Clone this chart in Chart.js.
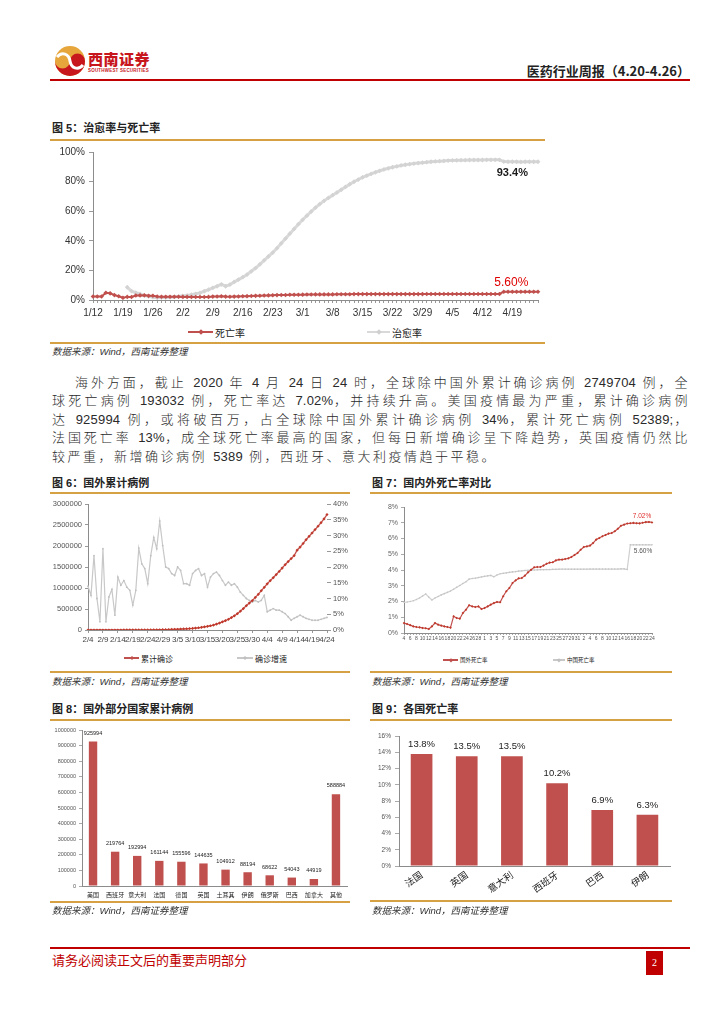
<!DOCTYPE html>
<html lang="zh-CN">
<head>
<meta charset="utf-8">
<title>医药行业周报（4.20-4.26）</title>
<script src="https://cdn.jsdelivr.net/npm/chart.js@4.4.1/dist/chart.umd.min.js"></script>
<style>
  html, body { margin: 0; padding: 0; background: #fff; }
  #page { position: relative; width: 724px; height: 1024px; overflow: hidden;
          font-family: "Liberation Sans", Arial, "Noto Sans CJK SC", sans-serif; color: #222; }
  .abs { position: absolute; }
  canvas { position: absolute; }
  .fig-title { position: absolute; font-size: 11px; font-weight: 700; line-height: 14px; white-space: nowrap;
               font-family: "Liberation Sans", "Noto Sans CJK SC", sans-serif; }
  .gold { position: absolute; height: 2px; background: #d6a142; }
  .src { position: absolute; font-size: 9.5px; font-style: italic; color: #333; line-height: 12px; white-space: nowrap;
         font-family: "Liberation Sans", "Noto Sans CJK SC", sans-serif; }
  .lg { position: absolute; display: flex; align-items: center; white-space: nowrap; height: 12px;
        font-family: "Noto Sans CJK SC", sans-serif; color: #222; }
  .ln { position: relative; display: inline-block; height: 2px; margin-right: 2px; }
  .ln b { position: absolute; left: 50%; top: 50%; width: 4px; height: 4px; transform: translate(-50%, -50%) rotate(45deg); }
  .para { position: absolute; left: 52px; top: 374px; font-size: 13px; color: #2a2a2a; letter-spacing: 2.5px;
          font-family: "Liberation Sans", "Noto Sans CJK SC Light", "Noto Sans CJK SC DemiLight", "Noto Sans CJK SC", sans-serif;
          font-weight: 300; }
  .para .n { letter-spacing: 0.2px; }
  .pl { width: 638px; height: 18.4px; line-height: 18.4px; white-space: nowrap; text-align: justify; text-align-last: justify; }
  .pl.last { text-align-last: left; }
</style>
</head>
<body>
<div id="page">

  <!-- header -->
  <svg class="abs" style="left:54px;top:45px" width="32" height="32" viewBox="0 0 32 32">
    <circle cx="16" cy="16" r="15" fill="#e7a63c"/>
    <path d="M1 16 A15 15 0 0 0 31 16 A7.5 7.5 0 0 0 16 16 A7.5 7.5 0 0 1 1 16 Z" fill="#c8161d"/>
    <path d="M3 12 C8 6 15 9 16 16 C17 23 24 26 29 20" stroke="#fff" stroke-width="3" fill="none"/>
  </svg>
  <div class="abs" style="left:88px;top:50px;font-size:15px;font-weight:900;color:#c8161d;letter-spacing:0.5px;font-family:'Noto Sans CJK SC',sans-serif;line-height:17px">西南证券</div>
  <div class="abs" style="left:88px;top:68px;font-size:4.5px;color:#c8161d;letter-spacing:0.2px;line-height:5px;font-weight:700">SOUTHWEST SECURITIES</div>
  <div class="abs" style="right:34px;top:63px;font-size:13px;font-weight:700;line-height:16px;font-family:'Noto Sans CJK SC',sans-serif">医药行业周报（4.20-4.26）</div>
  <div class="abs" style="left:50px;top:79px;width:640px;height:2px;background:#c00000"></div>

  <!-- 图5 -->
  <div class="fig-title" style="left:52px;top:121px">图 5：治愈率与死亡率</div>
  <div class="gold" style="left:50px;top:139px;width:495px"></div>
  <canvas id="c5" width="495" height="180" style="left:50px;top:142px;width:495px;height:180px"></canvas>
  <div class="lg" style="left:188px;top:326px;font-size:10px">
    <i class="ln" style="width:25px;background:#c0504d"><b style="background:#c0504d"></b></i>死亡率
  </div>
  <div class="lg" style="left:367px;top:326px;font-size:10px">
    <i class="ln" style="width:23px;background:#d9d9d9"><b style="background:#d0d0d0"></b></i>治愈率
  </div>
  <div class="gold" style="left:50px;top:342px;width:495px"></div>
  <div class="src" style="left:52px;top:346px">数据来源：Wind，西南证券整理</div>

  <!-- 正文 -->
  <div class="para">
    <div class="pl" style="padding-left:23px;width:615px">海外方面，截止 <span class="n">2020</span> 年 <span class="n">4</span> 月 <span class="n">24</span> 日 <span class="n">24</span> 时，全球除中国外累计确诊病例 <span class="n">2749704</span> 例，全</div>
    <div class="pl">球死亡病例 <span class="n">193032</span> 例，死亡率达 <span class="n">7.02%</span>，并持续升高。美国疫情最为严重，累计确诊病例</div>
    <div class="pl">达 <span class="n">925994</span> 例，或将破百万，占全球除中国外累计确诊病例 <span class="n">34%</span>，累计死亡病例 <span class="n">52389;</span>，</div>
    <div class="pl">法国死亡率 <span class="n">13%</span>，成全球死亡率最高的国家，但每日新增确诊呈下降趋势，英国疫情仍然比</div>
    <div class="pl last">较严重，新增确诊病例 <span class="n">5389</span> 例，西班牙、意大利疫情趋于平稳。</div>
  </div>

  <!-- 图6 -->
  <div class="fig-title" style="left:52px;top:476px">图 6：国外累计病例</div>
  <div class="gold" style="left:50px;top:492px;width:300px"></div>
  <canvas id="c6" width="300" height="155" style="left:50px;top:495px;width:300px;height:155px"></canvas>
  <div class="lg" style="left:124px;top:652px;font-size:8px">
    <i class="ln" style="width:15px;height:1.5px;background:#c0504d"><b style="background:#c0504d;width:3px;height:3px"></b></i>累计确诊
  </div>
  <div class="lg" style="left:237px;top:652px;font-size:8px">
    <i class="ln" style="width:16px;height:1.5px;background:#c8c8c8"><b style="background:#c0c0c0;width:3px;height:3px"></b></i>确诊增速
  </div>
  <div class="gold" style="left:50px;top:671px;width:300px"></div>
  <div class="src" style="left:52px;top:676px">数据来源：Wind，西南证券整理</div>

  <!-- 图7 -->
  <div class="fig-title" style="left:372px;top:476px">图 7：国内外死亡率对比</div>
  <div class="gold" style="left:370px;top:492px;width:302px"></div>
  <canvas id="c7" width="307" height="155" style="left:365px;top:497px;width:307px;height:155px"></canvas>
  <div class="lg" style="left:443px;top:654px;font-size:5.5px">
    <i class="ln" style="width:15px;height:1.2px;background:#c0504d"><b style="background:#c0504d;width:2.5px;height:2.5px"></b></i>国外死亡率
  </div>
  <div class="lg" style="left:553px;top:654px;font-size:5.5px">
    <i class="ln" style="width:12px;height:1.2px;background:#c8c8c8"><b style="background:#c0c0c0;width:2.5px;height:2.5px"></b></i>中国死亡率
  </div>
  <div class="gold" style="left:370px;top:671px;width:302px"></div>
  <div class="src" style="left:372px;top:676px">数据来源：Wind，西南证券整理</div>

  <!-- 图8 -->
  <div class="fig-title" style="left:52px;top:702px">图 8：国外部分国家累计病例</div>
  <div class="gold" style="left:50px;top:719px;width:300px"></div>
  <canvas id="c8" width="300" height="180" style="left:50px;top:722px;width:300px;height:180px"></canvas>
  <div class="gold" style="left:50px;top:901px;width:300px"></div>
  <div class="src" style="left:52px;top:905px">数据来源：Wind，西南证券整理</div>

  <!-- 图9 -->
  <div class="fig-title" style="left:372px;top:702px">图 9：各国死亡率</div>
  <div class="gold" style="left:370px;top:719px;width:302px"></div>
  <canvas id="c9" width="307" height="172" style="left:365px;top:726px;width:307px;height:172px"></canvas>
  <div class="gold" style="left:370px;top:900px;width:302px"></div>
  <div class="src" style="left:372px;top:905px">数据来源：Wind，西南证券整理</div>

  <!-- footer -->
  <div class="abs" style="left:50px;top:947px;width:640px;height:2px;background:#c00000"></div>
  <div class="abs" style="left:52px;top:952px;font-size:13px;color:#c00000;line-height:16px;font-family:'Noto Sans CJK SC',sans-serif">请务必阅读正文后的重要声明部分</div>
  <div class="abs" style="left:646px;top:951px;width:17px;height:24px;background:#c00000;color:#fff;font-size:10px;line-height:24px;text-align:center;font-family:'Liberation Serif',serif">2</div>
</div>

<script>
// ---------------- data ----------------

// day labels for 2020 (categories)
function buildDays(m0, d0, m1, d1) {
  const monthLen = [0, 31, 29, 31, 30];
  const out = [];
  let m = m0, d = d0;
  while (m < m1 || (m === m1 && d <= d1)) {
    out.push(m + '/' + d);
    d++;
    if (d > monthLen[m]) { d = 1; m++; }
  }
  return out;
}

// 图5: 1/12 - 4/25, %
const fig5Dates = buildDays(1, 12, 4, 25);
const fig5Death = [
  2.4, 2.4, 2.4, 4.9, 4.5, 3.3, 2.5, 1.5, 2.1, 2.0,
  3.0, 3.1, 3.2, 2.8, 2.9, 2.4, 2.2, 2.2, 2.2, 2.2,
  2.2, 2.1, 2.1, 2.0, 2.0, 2.0, 2.0, 2.1, 2.3, 2.4,
  2.5, 2.3, 2.2, 2.3, 2.4, 2.5, 2.6, 2.7, 2.8, 2.9,
  3.0, 3.1, 3.2, 3.3, 3.4, 3.4, 3.5, 3.5, 3.5, 3.6,
  3.7, 3.7, 3.8, 3.8, 3.8, 3.8, 3.8, 3.9, 3.9, 3.9,
  3.9, 4.0, 4.0, 4.0, 4.0, 4.0, 4.0, 4.0, 4.0, 4.0,
  4.0, 4.0, 4.0, 4.0, 4.0, 4.0, 4.0, 4.0, 4.1, 4.1,
  4.1, 4.1, 4.1, 4.1, 4.1, 4.1, 4.1, 4.1, 4.1, 4.1,
  4.1, 4.1, 4.1, 4.1, 4.1, 4.1,
  5.6, 5.6, 5.6, 5.6, 5.6, 5.6, 5.6, 5.6, 5.6
];
const fig5Cure = [
  null, null, null, null, null, null, null, null, 8.6, 6.0,
  4.9, 4.1, 3.0, 2.5, 1.9, 1.5, 1.7, 1.7, 1.8, 2.1,
  2.3, 2.8, 3.1, 3.6, 4.2, 4.8, 5.9, 7.0, 8.2, 9.3,
  10.6, 9.3, 10.4, 12.2, 13.8, 15.4, 17.2, 19.4, 21.6, 24.1,
  26.8, 29.4, 32.0, 35.0, 38.3, 41.5, 44.8, 48.0, 51.2, 54.2,
  57.0, 59.8, 62.4, 64.8, 67.0, 69.0, 70.8, 72.6, 74.5, 76.4,
  78.2, 79.9, 81.4, 82.9, 84.1, 85.2, 86.3, 87.3, 88.2, 89.0,
  89.7, 90.3, 90.9, 91.4, 91.8, 92.2, 92.5, 92.8, 93.1, 93.4,
  93.6, 93.8, 94.0, 94.2, 94.3, 94.4, 94.5, 94.5, 94.6, 94.6,
  94.6, 94.6, 94.7, 94.7, 94.7, 94.7,
  93.5, 93.4, 93.4, 93.4, 93.3, 93.4, 93.4, 93.4, 93.4
];

// 图6 / 图7: 2/4 - 4/24
const outsideDates = buildDays(2, 4, 4, 24);
const fig6Cases = [
  200, 230, 260, 300, 320, 340, 390, 400, 440, 450,
  510, 530, 690, 810, 900, 1000, 1100, 1400, 1800, 2100,
  2500, 2900, 3700, 4700, 6100, 7200, 8800, 10500, 12700, 15000,
  18000, 21600, 25600, 29000, 34000, 38000, 46000, 53000, 64000, 76000,
  88000, 101000, 118000, 140000, 165000, 195000, 223000, 255000, 296000, 338000,
  388000, 449000, 510000, 578000, 641000, 700000, 776000, 849000, 937000, 1016000,
  1100000, 1175000, 1245000, 1320000, 1395000, 1475000, 1555000, 1630000, 1700000, 1770000,
  1900000, 1975000, 2060000, 2150000, 2230000, 2310000, 2390000, 2470000, 2555000, 2644000,
  2749704
];
const fig6Growth = [
  13.9, 11.0, 23.6, 10.0, 2.6, 25.8, 2.6, 10.5, 12.9, 4.7,
  16.8, 14.2, 15.7, 13.6, 12.6, 7.9, 12.6, 26.0, 21.0, 19.5,
  14.7, 23.6, 29.4, 25.8, 34.6, 26.8, 20.0, 19.5, 17.9, 17.3,
  20.0, 18.9, 14.7, 14.7, 14.2, 17.9, 18.9, 19.5, 17.3, 17.9,
  13.6, 16.8, 17.9, 18.4, 17.3, 15.7, 14.2, 15.2, 14.2, 14.7,
  13.6, 12.0, 11.0, 10.0, 9.4, 8.9, 9.4, 8.9, 9.4, 11.0,
  5.8, 6.3, 6.8, 6.3, 6.3, 5.8, 5.2, 4.2, 3.1, 3.7,
  4.2, 4.7, 4.2, 3.7, 3.4, 3.1, 3.1, 3.1, 3.4, 3.7,
  4.0
];

const fig7Abroad = [
  0.63, 0.57, 0.50, 0.42, 0.38, 0.36, 0.32, 0.30, 0.25, 0.42,
  0.63, 0.53, 0.47, 0.42, 0.38, 0.34, 1.06, 0.95, 0.91, 1.27,
  1.48, 1.76, 1.69, 1.65, 1.69, 1.52, 1.59, 1.69, 1.80, 1.90,
  1.97, 1.95, 2.33, 2.65, 2.86, 3.17, 3.34, 3.47, 3.49, 3.64,
  3.85, 4.02, 4.17, 4.19, 4.19, 4.28, 4.40, 4.47, 4.49, 4.61,
  4.66, 4.66, 4.70, 4.74, 4.83, 4.95, 5.08, 5.29, 5.46, 5.50,
  5.55, 5.71, 5.93, 6.03, 6.14, 6.22, 6.31, 6.35, 6.46, 6.62,
  6.81, 6.88, 6.95, 6.97, 6.99, 6.97, 6.96, 7.00, 7.04, 7.05,
  7.02
];
const fig7China = [
  1.95, 1.97, 2.00, 2.05, 2.13, 2.22, 2.35, 2.48, 2.28, 2.10,
  2.22, 2.32, 2.42, 2.50, 2.58, 2.67, 2.78, 2.90, 3.02, 3.14,
  3.25, 3.42, 3.46, 3.48, 3.52, 3.56, 3.60, 3.63, 3.66, 3.57,
  3.68, 3.76, 3.79, 3.82, 3.85, 3.88, 3.90, 3.93, 3.95, 3.97,
  3.98, 3.99, 4.00, 4.01, 4.02, 4.02, 4.03, 4.03, 4.04, 4.04,
  4.05, 4.05, 4.05, 4.05, 4.05, 4.05, 4.05, 4.05, 4.05, 4.05,
  4.06, 4.06, 4.06, 4.06, 4.06, 4.06, 4.06, 4.06, 4.06, 4.06,
  4.07, 4.07, 4.03, 5.60, 5.60, 5.60, 5.60, 5.60, 5.60, 5.60,
  5.60
];

// 图8
const fig8Countries = ['美国', '西班牙', '意大利', '法国', '德国', '英国', '土耳其', '伊朗', '俄罗斯', '巴西', '加拿大', '其他'];
const fig8Cases = [925994, 219764, 192994, 161144, 155596, 144635, 104912, 88194, 68622, 54043, 44919, 588884];

// 图9
const fig9Countries = ['法国', '英国', '意大利', '西班牙', '巴西', '伊朗'];
const fig9Rates = [13.8, 13.5, 13.5, 10.2, 6.9, 6.3];

// ---------------- style ----------------
const RED = '#c0504d';
const GREY = '#d9d9d9';
const AXIS = '#8c8c8c';
const LATIN = '"Liberation Sans", Arial, "Noto Sans CJK SC", sans-serif';
const CJK = '"Noto Sans CJK SC", sans-serif';

Chart.defaults.font.family = LATIN;
Chart.defaults.color = '#333';
Chart.defaults.animation = false;
Chart.defaults.responsive = false;
Chart.defaults.devicePixelRatio = 1;
Chart.defaults.plugins.legend.display = false;
Chart.defaults.plugins.tooltip.enabled = false;

// value labels above bars
const barValuePlugin = {
  id: 'barValues',
  afterDatasetsDraw(chart, args, opts) {
    if (!opts || !opts.display) return;
    const ctx = chart.ctx;
    const meta = chart.getDatasetMeta(0);
    const data = chart.data.datasets[0].data;
    ctx.save();
    ctx.font = opts.font;
    ctx.fillStyle = opts.color;
    ctx.textAlign = 'center';
    ctx.textBaseline = 'bottom';
    meta.data.forEach((bar, i) => {
      ctx.fillText(opts.format(data[i]), bar.x, bar.y - opts.offset);
    });
    ctx.restore();
  }
};

// text notes next to a given point
const pointNotePlugin = {
  id: 'pointNotes',
  afterDatasetsDraw(chart, args, opts) {
    const notes = (opts && opts.notes) || [];
    if (!notes.length) return;
    const ctx = chart.ctx;
    ctx.save();
    notes.forEach(n => {
      const el = chart.getDatasetMeta(n.dataset).data[n.index];
      if (!el) return;
      ctx.font = n.font;
      ctx.fillStyle = n.color;
      ctx.textAlign = 'center';
      ctx.textBaseline = 'middle';
      ctx.fillText(n.text, el.x + n.dx, el.y + n.dy);
    });
    ctx.restore();
  }
};

Chart.register(barValuePlugin, pointNotePlugin);

function fixWidth(w) { return s => { s.width = w; }; }
function fixHeight(h) { return s => { s.height = h; }; }

// ---------------- 图5 ----------------
new Chart(document.getElementById('c5'), {
  type: 'line',
  data: {
    labels: fig5Dates,
    datasets: [
      { label: '死亡率', data: fig5Death, borderColor: RED, backgroundColor: RED,
        borderWidth: 2, pointStyle: 'rectRot', pointRadius: 2.3, pointBorderWidth: 0, tension: 0 },
      { label: '治愈率', data: fig5Cure, borderColor: GREY, backgroundColor: '#d3d3d3',
        borderWidth: 3, pointStyle: 'rectRot', pointRadius: 2.4, pointBorderWidth: 0, tension: 0 }
    ]
  },
  options: {
    layout: { padding: { left: 0, top: 10, right: 7, bottom: 0 } },
    plugins: {
      pointNotes: { notes: [
        { dataset: 1, index: 98, text: '93.4%', dx: 0, dy: 11, color: '#1a1a1a', font: 'bold 11px ' + LATIN },
        { dataset: 0, index: 98, text: '5.60%', dx: -1, dy: -9, color: '#e00000', font: '12px ' + LATIN }
      ] }
    },
    scales: {
      x: {
        offset: false,
        grid: { offset: false, drawOnChartArea: false, tickLength: 3, color: '#999' },
        border: { color: AXIS },
        ticks: { autoSkip: false, maxRotation: 0, minRotation: 0, padding: 4, font: { size: 10 },
                 callback: (v, i) => (i % 7 === 0 ? fig5Dates[i] : '') },
        afterFit: fixHeight(22)
      },
      y: {
        min: 0, max: 100,
        grid: { drawOnChartArea: false, tickLength: 4, color: '#999' },
        border: { color: AXIS },
        ticks: { stepSize: 10, padding: 4, font: { size: 10 }, callback: v => v + '%' },
        afterFit: fixWidth(43)
      }
    }
  }
});

// ---------------- 图6 ----------------
new Chart(document.getElementById('c6'), {
  type: 'line',
  data: {
    labels: outsideDates,
    datasets: [
      { label: '累计确诊', data: fig6Cases, yAxisID: 'y', borderColor: RED, backgroundColor: '#c0392b',
        borderWidth: 1.3, pointStyle: 'rectRot', pointRadius: 1.6, pointBorderWidth: 0, tension: 0 },
      { label: '确诊增速', data: fig6Growth, yAxisID: 'y1', borderColor: '#c8c8c8', backgroundColor: '#c0c0c0',
        borderWidth: 1.2, pointStyle: 'circle', pointRadius: 0.9, pointBorderWidth: 0, tension: 0 }
    ]
  },
  options: {
    layout: { padding: { left: 0, top: 9, right: 0, bottom: 0 } },
    scales: {
      x: {
        offset: false,
        grid: { offset: false, drawOnChartArea: false, tickLength: 3,
                color: c => (c.index % 5 === 0 ? '#999' : 'rgba(0,0,0,0)') },
        border: { color: AXIS },
        ticks: { autoSkip: false, maxRotation: 0, minRotation: 0, padding: 2, color: '#444', font: { size: 8 },
                 callback: (v, i) => (i % 5 === 0 ? outsideDates[i] : '') },
        afterFit: fixHeight(20)
      },
      y: {
        position: 'left', min: 0, max: 3000000,
        grid: { drawOnChartArea: false, tickLength: 3, color: '#999' },
        border: { color: AXIS },
        ticks: { stepSize: 500000, padding: 3, color: '#555', font: { size: 7.5 }, callback: v => String(v) },
        afterFit: fixWidth(38)
      },
      y1: {
        position: 'right', min: 0, max: 40,
        grid: { drawOnChartArea: false, tickLength: 4, color: '#999' },
        border: { display: false },
        ticks: { stepSize: 5, padding: 2, color: '#555', font: { size: 7.5 }, callback: v => v + '%' },
        afterFit: fixWidth(23)
      }
    }
  }
});

// ---------------- 图7 ----------------
new Chart(document.getElementById('c7'), {
  type: 'line',
  data: {
    labels: outsideDates,
    datasets: [
      { label: '国外死亡率', data: fig7Abroad, borderColor: RED, backgroundColor: '#c0392b',
        borderWidth: 1.2, pointStyle: 'rectRot', pointRadius: 1.3, pointBorderWidth: 0, tension: 0 },
      { label: '中国死亡率', data: fig7China, borderColor: '#cfcfcf', backgroundColor: '#c4c4c4',
        borderWidth: 1.2, pointStyle: 'circle', pointRadius: 0.8, pointBorderWidth: 0, tension: 0 }
    ]
  },
  options: {
    layout: { padding: { left: 0, top: 10, right: 20, bottom: 0 } },
    plugins: {
      pointNotes: { notes: [
        { dataset: 0, index: 80, text: '7.02%', dx: -10, dy: -6, color: '#e03030', font: '6.5px ' + LATIN },
        { dataset: 1, index: 80, text: '5.60%', dx: -9, dy: 6, color: '#555', font: '6.5px ' + LATIN }
      ] }
    },
    scales: {
      x: {
        offset: false,
        grid: { offset: false, drawOnChartArea: false, tickLength: 2, color: '#aaa' },
        border: { color: AXIS },
        ticks: { autoSkip: false, maxRotation: 0, minRotation: 0, padding: 1, color: '#555', font: { size: 5 },
                 callback: (v, i) => (i % 2 === 0 ? outsideDates[i].split('/')[1] : '') },
        afterFit: fixHeight(19)
      },
      y: {
        min: 0, max: 8,
        grid: { drawOnChartArea: false, tickLength: 3, color: '#aaa' },
        border: { color: AXIS },
        ticks: { stepSize: 1, padding: 3, color: '#666', font: { size: 7 }, callback: v => v + '%' },
        afterFit: fixWidth(39)
      }
    }
  }
});

// ---------------- 图8 ----------------
new Chart(document.getElementById('c8'), {
  type: 'bar',
  data: {
    labels: fig8Countries,
    datasets: [{ label: '累计确诊', data: fig8Cases, backgroundColor: RED,
                 barPercentage: 0.38, categoryPercentage: 1 }]
  },
  options: {
    layout: { padding: { left: 0, top: 8, right: 3, bottom: 0 } },
    plugins: {
      barValues: { display: true, font: '5.5px ' + LATIN, color: '#222', offset: 5.5, format: v => String(v) }
    },
    scales: {
      x: {
        grid: { display: false, drawTicks: false },
        border: { color: AXIS },
        ticks: { padding: 5, color: '#222', font: { size: 6, family: CJK }, maxRotation: 0, autoSkip: false },
        afterFit: fixHeight(16)
      },
      y: {
        min: 0, max: 1000000,
        grid: { drawOnChartArea: false, tickLength: 3, color: '#aaa' },
        border: { color: AXIS },
        ticks: { stepSize: 100000, padding: 3, color: '#555', font: { size: 5.5 }, callback: v => String(v) },
        afterFit: fixWidth(32)
      }
    }
  }
});

// ---------------- 图9 ----------------
new Chart(document.getElementById('c9'), {
  type: 'bar',
  data: {
    labels: fig9Countries,
    datasets: [{ label: '死亡率', data: fig9Rates, backgroundColor: RED,
                 barPercentage: 0.48, categoryPercentage: 1 }]
  },
  options: {
    layout: { padding: { left: 0, top: 10, right: 2, bottom: 0 } },
    plugins: {
      barValues: { display: true, font: '9.5px ' + LATIN, color: '#222', offset: 5, format: v => v.toFixed(1) + '%' }
    },
    scales: {
      x: {
        grid: { display: false, drawTicks: false },
        border: { color: AXIS },
        ticks: { padding: 3, color: '#222', font: { size: 9.5, family: CJK }, minRotation: 35, maxRotation: 35, autoSkip: false },
        afterFit: fixHeight(32)
      },
      y: {
        min: 0, max: 16,
        grid: { drawOnChartArea: false, tickLength: 4, color: '#aaa' },
        border: { color: AXIS },
        ticks: { stepSize: 2, padding: 4, color: '#555', font: { size: 6.5 }, callback: v => v + '%' },
        afterFit: fixWidth(34)
      }
    }
  }
});
</script>
</body>
</html>
